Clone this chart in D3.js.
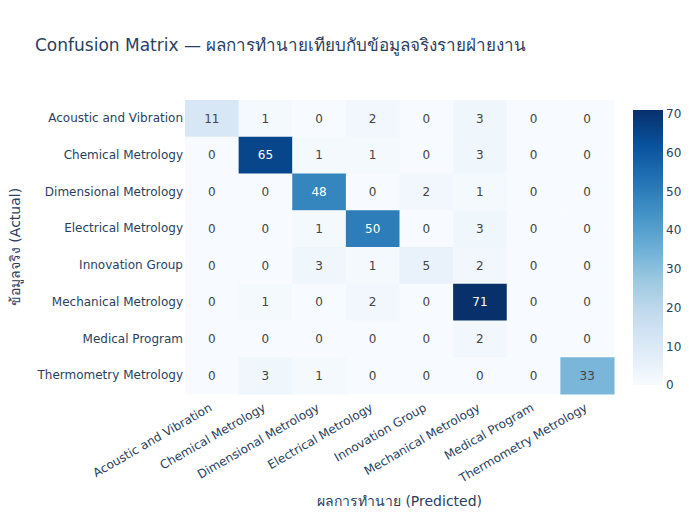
<!DOCTYPE html>
<html>
<head>
<meta charset="utf-8">
<script src="https://cdn.jsdelivr.net/npm/d3@7"></script>
<style>
body { margin: 0; background: #fff; }
text { font-family: verdana, "DejaVu Sans", arial, sans-serif; }
</style>
</head>
<body>
<script>
// data
var predicted = ["Acoustic and Vibration", "Chemical Metrology", "Dimensional Metrology",
    "Electrical Metrology", "Innovation Group", "Mechanical Metrology", "Medical Program",
    "Thermometry Metrology"];
var actual = predicted.slice();

var matrix = [
    [11, 1, 0, 2, 0, 3, 0, 0],
    [0, 65, 1, 1, 0, 3, 0, 0],
    [0, 0, 48, 0, 2, 1, 0, 0],
    [0, 0, 1, 50, 0, 3, 0, 0],
    [0, 0, 3, 1, 5, 2, 0, 0],
    [0, 1, 0, 2, 0, 71, 0, 0],
    [0, 0, 0, 0, 0, 2, 0, 0],
    [0, 3, 1, 0, 0, 0, 0, 33]
];

var colorTicks = [0, 10, 20, 30, 40, 50, 60, 70];

var blues = ["rgb(247,251,255)", "rgb(222,235,247)", "rgb(198,219,239)", "rgb(158,202,225)",
    "rgb(107,174,214)", "rgb(66,146,198)", "rgb(33,113,181)", "rgb(8,81,156)", "rgb(8,48,107)"];

var W = 700, H = 520;
var margin = { top: 100, right: 86, bottom: 126, left: 185 };
var w = W - margin.left - margin.right;
var h = H - margin.top - margin.bottom;
var textColor = "#2a3f5f";

var svg = d3.select("body")
    .append("svg")
    .attr("width", W)
    .attr("height", H);

var cells = [];
matrix.forEach(function (row, i) {
    row.forEach(function (v, j) {
        cells.push({ a: actual[i], p: predicted[j], v: v });
    });
});

var zmax = d3.max(cells, function (d) { return d.v; });

var color = d3.scaleLinear()
    .domain(blues.map(function (c, i) { return i / (blues.length - 1) * zmax; }))
    .range(blues)
    .interpolate(d3.interpolateRgb);

var x = d3.scaleBand().domain(predicted).range([0, w]);
var y = d3.scaleBand().domain(actual).range([0, h]);

var g = svg.append("g")
    .attr("transform", "translate(" + margin.left + "," + margin.top + ")");

g.selectAll("rect.cell")
    .data(cells)
    .enter()
    .append("rect")
    .attr("class", "cell")
    .attr("x", function (d) { return x(d.p); })
    .attr("y", function (d) { return y(d.a); })
    .attr("width", x.bandwidth() + 0.5)
    .attr("height", y.bandwidth() + 0.5)
    .attr("fill", function (d) { return color(d.v); });

g.selectAll("text.val")
    .data(cells)
    .enter()
    .append("text")
    .attr("class", "val")
    .attr("x", function (d) { return x(d.p) + x.bandwidth() / 2; })
    .attr("y", function (d) { return y(d.a) + y.bandwidth() / 2; })
    .attr("dy", "0.35em")
    .attr("text-anchor", "middle")
    .attr("font-size", 12)
    .attr("fill", function (d) { return d.v > zmax * 0.6 ? "#fff" : "#444"; })
    .text(function (d) { return d.v; });

// axes
var xAxis = g.append("g")
    .attr("transform", "translate(0," + h + ")")
    .call(d3.axisBottom(x).tickSize(0));
xAxis.select(".domain").remove();
xAxis.selectAll("text")
    .attr("font-size", 12)
    .attr("fill", textColor)
    .attr("text-anchor", "end")
    .attr("y", 0)
    .attr("dy", 0)
    .attr("transform", "translate(1,16) rotate(-30)");

var yAxis = g.append("g")
    .call(d3.axisLeft(y).tickSize(0).tickPadding(2));
yAxis.select(".domain").remove();
yAxis.selectAll("text")
    .attr("font-size", 12)
    .attr("fill", textColor);

// titles
svg.append("text")
    .attr("x", 35)
    .attr("y", 51)
    .attr("font-size", 17)
    .attr("fill", textColor)
    .text("Confusion Matrix — ผลการทำนายเทียบกับข้อมูลจริงรายฝ่ายงาน");

svg.append("text")
    .attr("x", margin.left + w / 2)
    .attr("y", 506)
    .attr("text-anchor", "middle")
    .attr("font-size", 14)
    .attr("fill", textColor)
    .text("ผลการทำนาย (Predicted)");

svg.append("text")
    .attr("transform", "translate(20," + (margin.top + h / 2) + ") rotate(-90)")
    .attr("text-anchor", "middle")
    .attr("font-size", 14)
    .attr("fill", textColor)
    .text("ข้อมูลจริง (Actual)");

// colorbar
var cbX = 633, cbW = 30, cbTop = 110, cbBot = 385;
var defs = svg.append("defs");
var grad = defs.append("linearGradient")
    .attr("id", "cbgrad")
    .attr("x1", 0).attr("y1", 1).attr("x2", 0).attr("y2", 0);
grad.selectAll("stop")
    .data(blues)
    .enter()
    .append("stop")
    .attr("offset", function (d, i) { return i / (blues.length - 1); })
    .attr("stop-color", function (d) { return d; });

svg.append("rect")
    .attr("x", cbX)
    .attr("y", cbTop)
    .attr("width", cbW)
    .attr("height", cbBot - cbTop)
    .attr("fill", "url(#cbgrad)");

var cy = d3.scaleLinear().domain([0, zmax]).range([cbBot, cbTop]);
var cAxis = svg.append("g")
    .attr("transform", "translate(" + (cbX + cbW) + ",0)")
    .call(d3.axisRight(cy).tickValues(colorTicks).tickSize(0).tickPadding(3));
cAxis.select(".domain").remove();
cAxis.selectAll("text")
    .attr("font-size", 12)
    .attr("fill", textColor);
</script>
</body>
</html>
